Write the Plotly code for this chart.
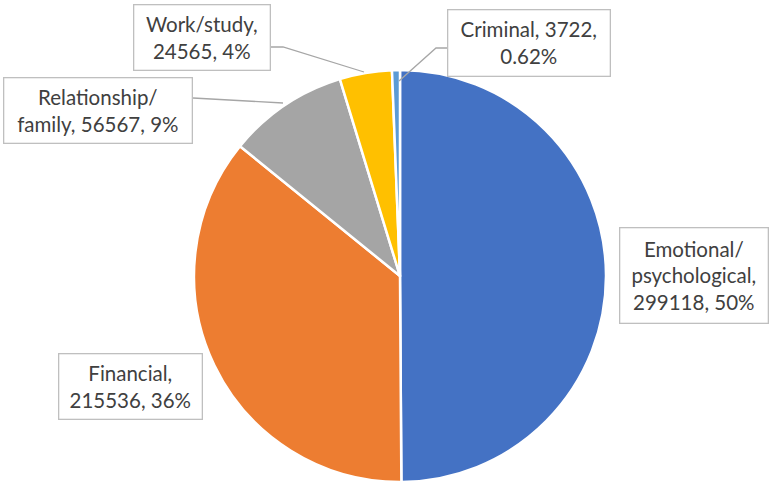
import plotly.graph_objects as go

categories = ["Emotional/psychological", "Financial", "Relationship/family", "Work/study", "Criminal"]
values = [299118, 215536, 56567, 24565, 3722]
pct_labels = ["50%", "36%", "9%", "4%", "0.62%"]
label_texts = [
    "Emotional/<br>psychological,<br>299118, 50%",
    "Financial,<br>215536, 36%",
    "Relationship/<br>family, 56567, 9%",
    "Work/study,<br>24565, 4%",
    "Criminal, 3722,<br>0.62%",
]
colors = ["#4472C4", "#ED7D31", "#A5A5A5", "#FFC000", "#5B9BD5"]

W, H = 771, 484
# label box positions in pixels: (left, top, right, bottom)
boxes = [
    (619, 227, 768, 323),
    (58, 353, 202, 419),
    (4, 78, 193, 144),
    (133, 5, 270, 71),
    (447, 10, 610, 77),
]
leaders = [
    None,
    None,
    [(193, 98), (283, 103)],
    [(270, 47), (283, 47), (364, 72)],
    [(447, 48), (436, 48), (399, 81)],
]

def px(x):
    return x / W

def py(y):
    return 1 - y / H

cx, cy, r = 400, 276, 206

fig = go.Figure(go.Pie(
    labels=categories,
    values=values,
    sort=False,
    direction="clockwise",
    rotation=0,
    marker=dict(colors=colors, line=dict(color="white", width=2.5)),
    textinfo="none",
    hoverinfo="label+value+percent",
    domain=dict(x=[px(cx - r), px(cx + r)], y=[py(cy + r), py(cy - r)]),
    showlegend=False,
))

pad = 3
for txt, (l, t, rr, b) in zip(label_texts, boxes):
    fig.add_annotation(
        x=px((l + rr) / 2), y=py((t + b) / 2), xref="paper", yref="paper",
        text=txt, showarrow=False, align="center",
        width=rr - l - 2 * pad - 2, height=b - t - 2 * pad - 2,
        borderpad=pad, bordercolor="#BFBFBF", borderwidth=1.3, bgcolor="white",
        font=dict(family="Lato, Calibri, sans-serif", size=20.5, color="#404040"),
        xanchor="center", yanchor="middle",
    )

for pts in leaders:
    if not pts:
        continue
    path = "M " + " L ".join(f"{px(x)},{py(y)}" for x, y in pts)
    fig.add_shape(type="path", path=path, xref="paper", yref="paper",
                  line=dict(color="#A6A6A6", width=1.3))

fig.update_layout(
    width=W, height=H,
    margin=dict(l=0, r=0, t=0, b=0),
    paper_bgcolor="white", plot_bgcolor="white",
)

fig.write_html("out.html", config={"displayModeBar": False},
               post_script="document.body.style.margin='0';")
